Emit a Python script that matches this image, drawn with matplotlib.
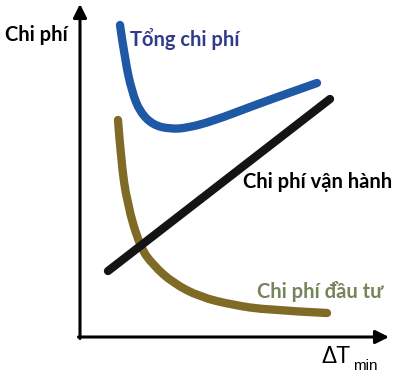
import matplotlib
matplotlib.use('Agg')
import matplotlib.pyplot as plt
from matplotlib.path import Path
from matplotlib.patches import PathPatch

# values, x = delta T_min, y = cost (arbitrary units)
total_x = [40, 45, 52, 60, 73, 90, 107, 133, 170, 203, 237]
total_y = [312, 277, 245, 225, 212, 208, 209, 216, 230, 242, 254]

invest_x = [38, 41, 47, 60, 73, 93, 120, 153, 187, 247]
invest_y = [217, 177, 134, 90, 72, 54, 40, 32, 27, 24]

oper_x = [28, 250]
oper_y = [66, 238]

label_font = 'Lato'


def smooth_curve(xs, ys, color):
    # quadratic bezier through the midpoints of the read points
    pts = list(zip(xs, ys))
    verts = [pts[0]]
    codes = [Path.MOVETO]
    for i in range(1, len(pts) - 1):
        if i == len(pts) - 2:
            end = pts[-1]
        else:
            end = ((pts[i][0] + pts[i + 1][0]) / 2, (pts[i][1] + pts[i + 1][1]) / 2)
        verts += [pts[i], end]
        codes += [Path.CURVE3, Path.CURVE3]
    patch = PathPatch(Path(verts, codes), facecolor='none', edgecolor=color,
                      lw=6, capstyle='round', joinstyle='round')
    ax.add_patch(patch)


fig = plt.figure(figsize=(3.97, 3.77), dpi=100)
ax = fig.add_axes([0, 0, 1, 1])
ax.set_xlim(-80, 317)
ax.set_ylim(-40, 337)
ax.axis('off')

# axes with arrows
arrow = dict(arrowstyle='-|>', lw=2.2, color='black', mutation_scale=20,
             shrinkA=0, shrinkB=0)
ax.annotate('', xy=(0, 333), xytext=(0, -1.5), arrowprops=arrow)
ax.annotate('', xy=(309, 0), xytext=(-1.5, 0), arrowprops=arrow)

smooth_curve(total_x, total_y, '#1f58a5')
smooth_curve(invest_x, invest_y, '#7f6b25')
ax.plot(oper_x, oper_y, color='#141414', lw=6, solid_capstyle='round')

ax.text(-75, 302, 'Chi phí', fontsize=14.5, fontweight='bold', family=label_font,
        va='center', ha='left', color='black')
ax.text(50, 298, 'Tổng chi phí', fontsize=14.5, fontweight='bold', family=label_font,
        va='center', ha='left', color='#2e3b8c')
ax.text(163, 155, 'Chi phí vận hành', fontsize=14.5, fontweight='bold',
        family=label_font, va='center', ha='left', color='black')
ax.text(177, 46, 'Chi phí đầu tư', fontsize=14.5, fontweight='bold',
        family=label_font, va='center', ha='left', color='#76845a')

ax.text(241, -26, 'ΔT', fontsize=16.5, family='Liberation Sans',
        va='baseline', ha='left', color='black')
ax.text(273, -33, 'min', fontsize=11, family='Liberation Sans',
        va='baseline', ha='left', color='black')

fig.savefig('out.png', dpi=100)
